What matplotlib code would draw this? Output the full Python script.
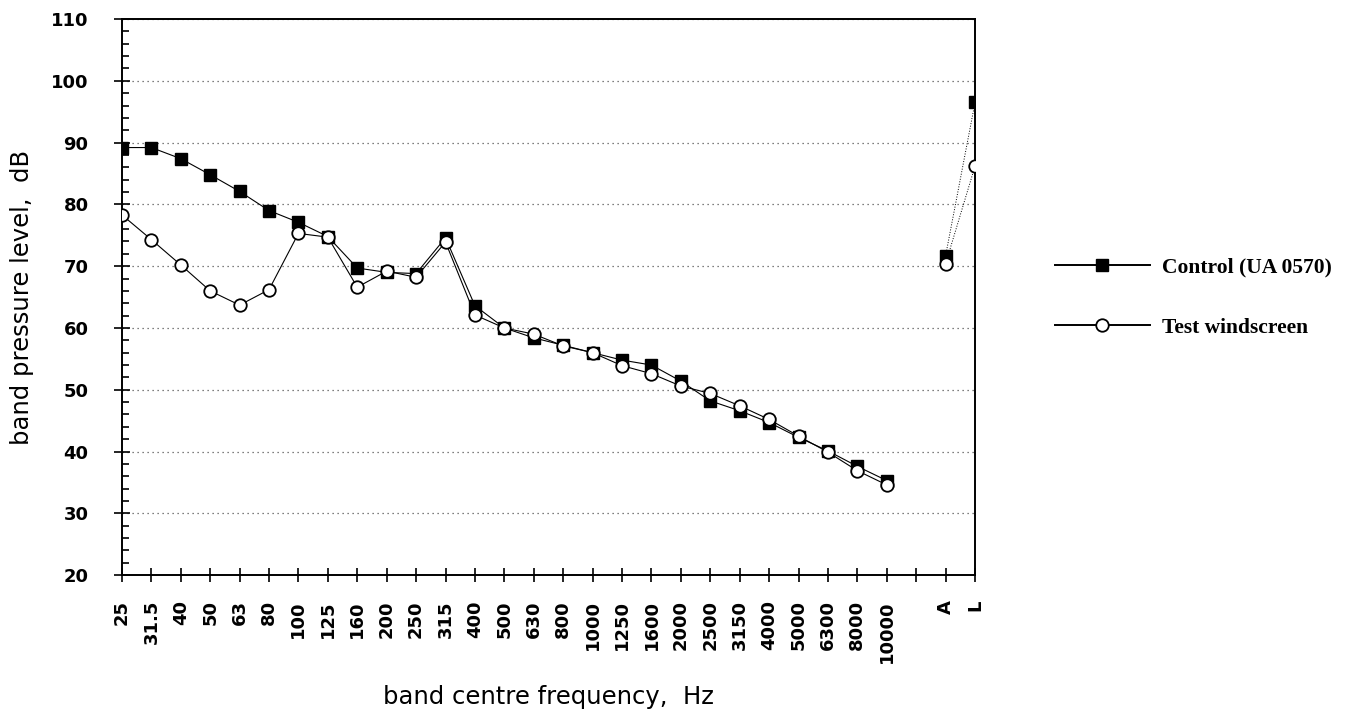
import numpy as np
import matplotlib
matplotlib.use("Agg")
import matplotlib.pyplot as plt
from matplotlib.ticker import MultipleLocator

# band centre frequencies, one empty slot, then the A and L overall levels
bands = ["25", "31.5", "40", "50", "63", "80", "100", "125", "160", "200",
         "250", "315", "400", "500", "630", "800", "1000", "1250", "1600",
         "2000", "2500", "3150", "4000", "5000", "6300", "8000", "10000",
         "", "A", "L"]

control = [89.2, 89.2, 87.4, 84.8, 82.1, 79.0, 77.1, 74.8, 69.7, 69.0,
           68.8, 74.6, 63.6, 60.0, 58.4, 57.2, 56.0, 54.8, 54.0,
           51.4, 48.2, 46.6, 44.7, 42.3, 40.1, 37.6, 35.3,
           np.nan, 71.7, 96.5]

test = [78.3, 74.3, 70.2, 66.0, 63.7, 66.2, 75.3, 74.7, 66.6, 69.2,
        68.2, 73.9, 62.1, 60.0, 59.0, 57.1, 56.0, 53.9, 52.6,
        50.6, 49.4, 47.4, 45.2, 42.5, 39.9, 36.9, 34.6,
        np.nan, 70.4, 86.2]

x = np.arange(len(bands))
nb = 27  # number of real bands

fig = plt.figure(figsize=(13.7, 7.18), dpi=100)
ax = fig.add_axes([0.089, 0.199, 0.6227, 0.7745])

# band curves (solid), A-L segments (dotted)
ax.plot(x[:nb], control[:nb], color="black", lw=0.8, marker="s", ms=8.5,
        mfc="black", mec="black", label="Control (UA 0570)", zorder=3)
ax.plot(x[:nb], test[:nb], color="black", lw=0.8, marker="o", ms=9,
        mfc="white", mec="black", mew=1.3, label="Test windscreen", zorder=4)
ax.plot(x[nb + 1:], control[nb + 1:], color="black", lw=0.7, ls=":",
        marker="s", ms=8.5, mfc="black", mec="black", zorder=3)
ax.plot(x[nb + 1:], test[nb + 1:], color="black", lw=0.7, ls=":",
        marker="o", ms=9, mfc="white", mec="black", mew=1.3, zorder=4)

ax.set_xlim(0, len(bands) - 1)
ax.set_ylim(20, 110)
ax.set_xticks(x)
ax.set_xticklabels(bands, rotation=90, va="top", ha="center")
ax.yaxis.set_major_locator(MultipleLocator(10))
ax.yaxis.set_minor_locator(MultipleLocator(2))

ax.tick_params(axis="x", direction="inout", length=10, width=1.2, pad=13)
ax.tick_params(axis="y", which="major", direction="inout", length=12, width=1.2, pad=18)
ax.tick_params(axis="y", which="minor", direction="in", length=5, width=1.2)
for lab in ax.get_xticklabels() + ax.get_yticklabels():
    lab.set_fontsize(13)
    lab.set_fontweight("bold")
    lab.set_family("DejaVu Sans")

for s in ax.spines.values():
    s.set_linewidth(1.4)

ax.grid(axis="y", which="major", ls=(0, (1, 3)), color="#555555", lw=0.9)
ax.set_axisbelow(True)

ax.set_ylabel("band pressure level,  dB", fontsize=17.5, family="DejaVu Sans",
              labelpad=12)
ax.set_xlabel("band centre frequency,  Hz", fontsize=17.5, family="DejaVu Sans",
              labelpad=16)

leg = ax.legend(loc="center left", bbox_to_anchor=(1.071, 0.499), frameon=False,
                handlelength=4.4, handletextpad=0.55, labelspacing=1.85,
                prop={"family": "Liberation Serif", "weight": "bold", "size": 15.5})
for line in leg.get_lines():
    line.set_linewidth(1.4)

fig.savefig("out.png", dpi=100)
